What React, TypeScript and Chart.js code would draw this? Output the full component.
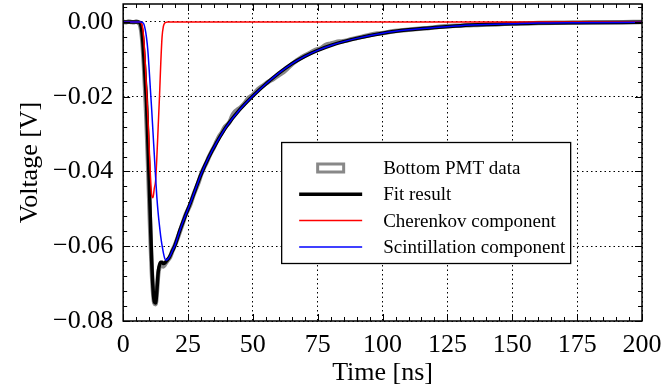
import React, { useEffect, useRef } from "react";
import { Chart, registerables } from "chart.js";

Chart.register(...registerables);

// ---------- data ----------
const modelTime = [
  0, 5, 6, 6.5, 7, 7.5, 8, 8.5, 9, 9.5, 10, 10.5, 11, 11.5, 12, 12.5, 13, 13.5, 14, 14.5,
  15, 15.5, 16, 16.5, 17, 18, 19, 20, 22, 24, 26, 28, 30, 33, 36, 40, 45, 50, 55, 60,
  65, 70, 75, 80, 90, 100, 110, 120, 130, 140, 150, 160, 175, 200,
];

const fitVolt = [
  0, 0, 0, -0.0003, -0.0015, -0.0045, -0.0095, -0.0155, -0.0215, -0.0315, -0.042, -0.053, -0.064,
  -0.0712, -0.0748, -0.0752, -0.0718, -0.067, -0.065, -0.0643, -0.0643, -0.0646, -0.0645, -0.0641,
  -0.0637, -0.0627, -0.0612, -0.0597, -0.0555, -0.0518, -0.0483, -0.0445, -0.0408, -0.0362, -0.0323,
  -0.0278, -0.0234, -0.0198, -0.0166, -0.0137, -0.0112, -0.0092, -0.0076, -0.0063, -0.0044, -0.003,
  -0.0021, -0.0015, -0.001, -0.0007, -0.0005, -0.0003, -0.0002, -0.0001,
];

const cherenkovVolt = [
  0, 0, 0, 0, -0.0003, -0.0015, -0.005, -0.011, -0.018, -0.025, -0.033, -0.041, -0.0463, -0.047,
  -0.0445, -0.0425, -0.036, -0.028, -0.02, -0.011, -0.004, -0.0012, -0.0003, -0.0001, 0, 0, 0, 0,
  0, 0, 0, 0, 0, 0, 0, 0, 0, 0, 0, 0, 0, 0, 0, 0, 0, 0, 0, 0, 0, 0, 0, 0, 0, 0,
];

const scintVolt = [
  0, 0, 0, 0, 0, -0.0002, -0.0006, -0.002, -0.0042, -0.0075, -0.0125, -0.018, -0.0235, -0.0295,
  -0.0355, -0.0415, -0.047, -0.0512, -0.0545, -0.0575, -0.0598, -0.0618, -0.0632, -0.0637, -0.0636,
  -0.0627, -0.0612, -0.0597, -0.0555, -0.0518, -0.0483, -0.0445, -0.0408, -0.0362, -0.0323, -0.0278,
  -0.0234, -0.0198, -0.0166, -0.0137, -0.0112, -0.0092, -0.0076, -0.0063, -0.0044, -0.003, -0.0021,
  -0.0015, -0.001, -0.0007, -0.0005, -0.0003, -0.0002, -0.0001,
];

const dataTime = [
  0, 1, 2, 3, 4, 5, 6, 6.5, 7, 7.5, 8, 8.5, 9, 9.5, 10, 10.5, 11, 11.5, 12, 12.5, 13, 13.5, 14,
  14.5, 15, 15.5, 16, 16.5, 17, 18, 19, 20, 21, 22, 23, 24, 25, 26, 27, 28, 29, 30, 31, 32, 33,
  34, 35, 36, 37, 38, 39, 40, 41, 42, 43, 44, 45, 46, 47, 48, 49, 50, 52, 54, 56, 58, 60, 62, 64,
  66, 68, 70, 72, 74, 76, 78, 80, 82, 84, 86, 88, 90, 92, 95, 98, 101, 104, 107, 110, 114, 118,
  122, 126, 130, 135, 140, 145, 150, 155, 160, 170, 180, 190, 200,
];

const dataVolt = [
  0.0001, -0.0001, 0.0001, 0, -0.0001, 0.0001, -0.0003, -0.0008, -0.0025, -0.006, -0.0115, -0.0185,
  -0.0265, -0.036, -0.0465, -0.057, -0.066, -0.072, -0.0752, -0.0755, -0.0722, -0.0675, -0.0656,
  -0.0652, -0.0652, -0.0654, -0.065, -0.0644, -0.0639, -0.063, -0.0612, -0.0596, -0.0578, -0.0558,
  -0.0538, -0.0517, -0.0502, -0.0486, -0.0465, -0.0447, -0.043, -0.0409, -0.0392, -0.0378, -0.0362,
  -0.0348, -0.0335, -0.032, -0.0306, -0.0296, -0.0283, -0.0276, -0.0268, -0.0252, -0.0241, -0.0235,
  -0.023, -0.0224, -0.0216, -0.0206, -0.02, -0.0195, -0.018, -0.017, -0.016, -0.0152, -0.0142,
  -0.0133, -0.012, -0.0108, -0.0098, -0.009, -0.0083, -0.0075, -0.0071, -0.0062, -0.0058, -0.0054,
  -0.0052, -0.005, -0.0046, -0.0043, -0.004, -0.0035, -0.0031, -0.0029, -0.0025, -0.0023, -0.0021,
  -0.0018, -0.0016, -0.0013, -0.0011, -0.001, -0.0008, -0.0007, -0.0006, -0.0004, -0.0004, -0.0003,
  -0.0002, -0.0001, -0.0001, 0,
];

const xTicks = [0, 25, 50, 75, 100, 125, 150, 175, 200];
const yTicks = [-0.08, -0.06, -0.04, -0.02, 0];
const xMinorStep = 5;
const yMinorStep = 0.004;
const xRange = [0, 200];
const yRange = [-0.08, 0.0048];

const seriesLabels = ["Bottom PMT data", "Fit result", "Cherenkov component", "Scintillation component"];

// ---------- styling ----------
const FONT = "'Liberation Serif', 'Times New Roman', serif";

const zip = (t: number[], v: number[]) => t.map((x, i) => ({ x, y: v[i] }));

const framePlugin = {
  id: "frameTicks",
  afterDatasetsDraw(chart: any) {
    const { ctx, chartArea: a, scales } = chart;
    const x = scales.x;
    const y = scales.y;
    ctx.save();
    ctx.strokeStyle = "#000";
    ctx.lineWidth = 1;
    const seg = (x1: number, y1: number, x2: number, y2: number) => {
      ctx.beginPath();
      ctx.moveTo(x1, y1);
      ctx.lineTo(x2, y2);
      ctx.stroke();
    };
    const nx0 = Math.ceil(x.min / xMinorStep - 1e-9);
    const nx1 = Math.floor(x.max / xMinorStep + 1e-9);
    for (let k = nx0; k <= nx1; k++) {
      const v = k * xMinorStep;
      const major = xTicks.some((t) => Math.abs(t - v) < 1e-6);
      const len = major ? 7 : 4;
      const px = Math.round(x.getPixelForValue(v)) + 0.5;
      seg(px, a.bottom, px, a.bottom - len);
      seg(px, a.top, px, a.top + len);
    }
    const ny0 = Math.ceil(y.min / yMinorStep - 1e-6);
    const ny1 = Math.floor(y.max / yMinorStep + 1e-6);
    for (let k = ny0; k <= ny1; k++) {
      const v = k * yMinorStep;
      const major = yTicks.some((t) => Math.abs(t - v) < 1e-7);
      const len = major ? 7 : 4;
      const py = Math.round(y.getPixelForValue(v)) + 0.5;
      seg(a.left, py, a.left + len, py);
      seg(a.right, py, a.right - len, py);
    }
    ctx.lineWidth = 1.5;
    ctx.strokeRect(a.left, a.top, a.right - a.left, a.bottom - a.top);
    ctx.restore();
  },
};

const legendPlugin = {
  id: "boxLegend",
  afterDraw(chart: any) {
    const { ctx, chartArea: a } = chart;
    const bx = a.left + 158;
    const by = a.top + 138;
    const bw = 289;
    const bh = 121;
    ctx.save();
    ctx.fillStyle = "#fff";
    ctx.fillRect(bx, by, bw, bh);
    ctx.strokeStyle = "#000";
    ctx.lineWidth = 1.3;
    ctx.strokeRect(bx + 0.5, by + 0.5, bw, bh);
    ctx.font = `19px ${FONT}`;
    ctx.textBaseline = "middle";
    ctx.textAlign = "left";
    const ds = chart.data.datasets;
    ds.forEach((d: any, i: number) => {
      const cy = by + 26 + i * 26.3;
      if (i === 0) {
        ctx.strokeStyle = d.borderColor;
        ctx.lineWidth = 3;
        ctx.strokeRect(bx + 36.5, cy - 4, 26, 8);
      } else {
        ctx.strokeStyle = d.borderColor;
        ctx.lineWidth = d.borderWidth;
        ctx.beginPath();
        ctx.moveTo(bx + 18, cy);
        ctx.lineTo(bx + 81, cy);
        ctx.stroke();
      }
      ctx.fillStyle = "#000";
      ctx.fillText(d.label, bx + 102, cy + 1);
    });
    ctx.restore();
  },
};

export default function App() {
  const ref = useRef<HTMLCanvasElement | null>(null);

  useEffect(() => {
    document.body.style.margin = "0";
    const canvas = ref.current;
    if (!canvas) return;
    const tickFont = { family: FONT, size: 26, lineHeight: 1 };
    const chart = new Chart(canvas, {
      type: "line",
      data: {
        datasets: [
          {
            label: seriesLabels[0],
            data: zip(dataTime, dataVolt),
            borderColor: "#888888",
            borderWidth: 4.5,
            pointRadius: 0,
            order: 4,
            cubicInterpolationMode: "monotone",
          },
          {
            label: seriesLabels[1],
            data: zip(modelTime, fitVolt),
            borderColor: "#000000",
            borderWidth: 3.5,
            pointRadius: 0,
            order: 3,
            cubicInterpolationMode: "monotone",
          },
          {
            label: seriesLabels[2],
            data: zip(modelTime, cherenkovVolt),
            borderColor: "#ff0000",
            borderWidth: 1.5,
            pointRadius: 0,
            order: 2,
            cubicInterpolationMode: "monotone",
          },
          {
            label: seriesLabels[3],
            data: zip(modelTime, scintVolt),
            borderColor: "#0000ff",
            borderWidth: 1.5,
            pointRadius: 0,
            order: 1,
            cubicInterpolationMode: "monotone",
          },
        ],
      },
      options: {
        animation: false,
        responsive: false,
        maintainAspectRatio: false,
        layout: { padding: { top: 4, right: 20, bottom: 5, left: 0 } },
        plugins: { legend: { display: false }, tooltip: { enabled: false } },
        scales: {
          x: {
            type: "linear",
            min: xRange[0],
            max: xRange[1],
            afterBuildTicks: (s: any) => {
              s.ticks = xTicks.map((v) => ({ value: v }));
            },
            afterFit: (s: any) => {
              s.paddingLeft = 0;
              s.paddingRight = 0;
            },
            ticks: {
              padding: 11,
              color: "#000",
              font: tickFont,
              maxRotation: 0,
              autoSkip: false,
              callback: (v: any) => String(v),
            },
            grid: { color: "#000", lineWidth: 1, drawTicks: false },
            border: { display: false, dash: [1.5, 3] },
            title: {
              display: true,
              text: "Time [ns]",
              color: "#000",
              font: tickFont,
              padding: { top: -9, bottom: 0 },
            },
          },
          y: {
            type: "linear",
            min: yRange[0],
            max: yRange[1],
            afterBuildTicks: (s: any) => {
              s.ticks = yTicks.map((v) => ({ value: v }));
            },
            afterFit: (s: any) => {
              s.paddingTop = 0;
              s.paddingBottom = 0;
            },
            ticks: {
              padding: 10,
              color: "#000",
              font: tickFont,
              autoSkip: false,
              callback: (value: any) => {
                const v = Number(value);
                if (Math.abs(v) < 1e-9) return "0.00";
                return (v < 0 ? "\u2212" : "") + Math.abs(v).toFixed(2);
              },
            },
            grid: { color: "#000", lineWidth: 1, drawTicks: false },
            border: { display: false, dash: [1.5, 3] },
            title: {
              display: true,
              text: "Voltage [V]",
              color: "#000",
              font: tickFont,
              padding: { top: 17, bottom: 0 },
            },
          },
        },
      },
      plugins: [framePlugin, legendPlugin],
    } as any);
    return () => chart.destroy();
  }, []);

  return (
    <div style={{ width: 662, height: 391 }}>
      <canvas ref={ref} width={662} height={391} style={{ display: "block", width: 662, height: 391 }} />
    </div>
  );
}
